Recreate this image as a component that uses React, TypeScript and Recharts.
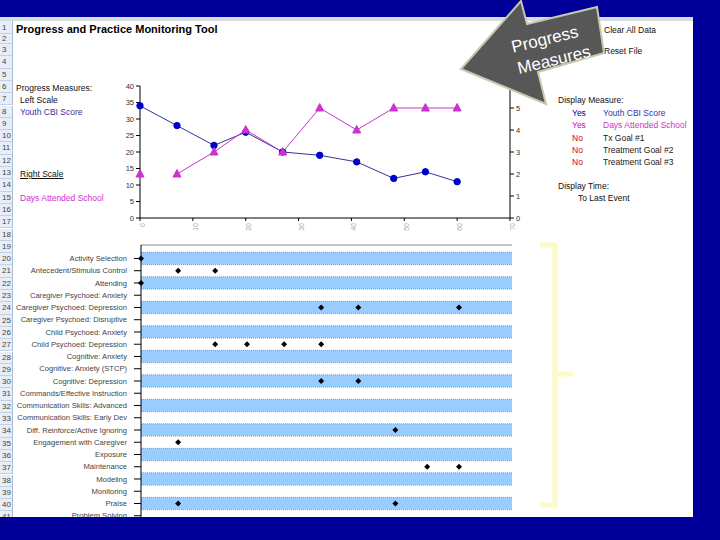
import React from 'react';
import {
  ComposedChart,
  Line,
  XAxis,
  YAxis,
  ScatterChart,
  Scatter,
  ReferenceArea,
  ReferenceLine,
} from 'recharts';

// ---------- data ----------
const sessionDays = [0, 7, 14, 20, 27, 34, 41, 48, 54, 60];
const youthCbiScore = [34, 28, 22, 26, 20, 19, 17, 12, 14, 11];
const daysAttendedSchool = [2, 2, 3, 4, 3, 5, 4, 5, 5, 5];
// the Days Attended School line is broken after this session
const schoolBreakAfter = 0;

const xTicks = [0, 10, 20, 30, 40, 50, 60, 70];
const leftTicks = [0, 5, 10, 15, 20, 25, 30, 35, 40];
const rightTicks = [0, 1, 2, 3, 4, 5, 6];

const practices = [
  'Activity Selection',
  'Antecedent/Stimulus Control',
  'Attending',
  'Caregiver Psychoed: Anxiety',
  'Caregiver Psychoed: Depression',
  'Caregiver Psychoed: Disruptive',
  'Child Psychoed: Anxiety',
  'Child Psychoed: Depression',
  'Cognitive: Anxiety',
  'Cognitive: Anxiety (STCP)',
  'Cognitive: Depression',
  'Commands/Effective Instruction',
  'Communication Skills: Advanced',
  'Communication Skills: Early Dev',
  'Diff. Reinforce/Active Ignoring',
  'Engagement with Caregiver',
  'Exposure',
  'Maintenance',
  'Modeling',
  'Monitoring',
  'Praise',
  'Problem Solving',
];

const practiceSessions: number[][] = [
  [0],
  [7, 14],
  [0],
  [],
  [34, 41, 60],
  [],
  [],
  [14, 20, 27, 34],
  [],
  [],
  [34, 41],
  [],
  [],
  [],
  [48],
  [7],
  [],
  [54, 60],
  [],
  [],
  [7, 48],
  [],
];

const displayMeasures = [
  { flag: 'Yes', name: 'Youth CBI Score', flagColor: '#000099', nameColor: '#3333AA' },
  { flag: 'Yes', name: 'Days Attended School', flagColor: '#CC00CC', nameColor: '#CC33CC' },
  { flag: 'No', name: 'Tx Goal #1', flagColor: '#CC0033', nameColor: '#222' },
  { flag: 'No', name: 'Treatment Goal #2', flagColor: '#CC0033', nameColor: '#222' },
  { flag: 'No', name: 'Treatment Goal #3', flagColor: '#CC0033', nameColor: '#222' },
];

// ---------- built tables ----------
const progressData: any[] = [];
sessionDays.forEach((d, i) => {
  progressData.push({ day: d, cbi: youthCbiScore[i], school: daysAttendedSchool[i] });
  if (i === schoolBreakAfter) {
    progressData.push({ day: (d + sessionDays[i + 1]) / 2, cbi: null, school: null });
  }
});

const practiceData: { x: number; y: number }[] = [];
practiceSessions.forEach((list, idx) => list.forEach((x) => practiceData.push({ x, y: idx })));

const FONT = '"Liberation Sans", Arial, sans-serif';
const BG = '#000098';

const rowTop = (n: number) => (n === 1 ? 21 : n === 2 ? 34 : 44 + (n - 3) * 12.3);
const rowH = (n: number) => (n === 1 ? 13 : n === 2 ? 10 : 12.3);
const rows = Array.from({ length: 41 }, (_, i) => i + 1);

const T = ({ x, y, children, style }: any) => (
  <div
    style={{
      position: 'absolute',
      left: x,
      top: y - 5,
      lineHeight: '10px',
      fontSize: 8.5,
      whiteSpace: 'nowrap',
      color: '#111',
      ...style,
    }}
  >
    {children}
  </div>
);

const TriangleDot = (props: any) => {
  const { cx, cy, index, payload } = props;
  if (cx == null || cy == null || payload == null || payload.school == null)
    return <g key={'t' + index} />;
  return (
    <polygon
      key={'t' + index}
      points={`${cx},${cy - 4.5} ${cx - 4},${cy + 3} ${cx + 4},${cy + 3}`}
      fill="#CC33CC"
      stroke="#CC33CC"
    />
  );
};

const Diamond = (props: any) => {
  const { cx, cy } = props;
  if (cx == null || cy == null) return <g />;
  return (
    <g>
      <polygon points={`${cx},${cy - 3} ${cx + 3},${cy} ${cx},${cy + 3} ${cx - 3},${cy}`} fill="#000" />
    </g>
  );
};

const PracticeTick = (props: any) => {
  const { x, y, payload } = props;
  const label = practices[payload.value] ?? '';
  return (
    <text
      x={x - 5}
      y={y}
      dy={2.7}
      textAnchor="end"
      fontSize={7.6}
      fill="#444"
      fontFamily={FONT}
    >
      {label}
    </text>
  );
};

export default function App() {
  return (
    <div
      style={{
        position: 'fixed',
        left: 0,
        top: 0,
        width: 720,
        height: 540,
        background: BG,
        overflow: 'hidden',
        fontFamily: FONT,
      }}
    >
      {/* sheet */}
      <div style={{ position: 'absolute', left: 0, top: 17, width: 693, height: 500, background: '#fff' }} />
      <div style={{ position: 'absolute', left: 0, top: 17, width: 693, height: 4, background: '#D5DCE6' }} />

      {/* title */}
      <div
        style={{
          position: 'absolute',
          left: 16,
          top: 23,
          fontSize: 11,
          lineHeight: '12px',
          fontWeight: 'bold',
          color: '#000',
          whiteSpace: 'nowrap',
        }}
      >
        Progress and Practice Monitoring Tool
      </div>

      {/* left panel */}
      <T x={16} y={88}>Progress Measures:</T>
      <T x={20} y={100}>Left Scale</T>
      <T x={20} y={112} style={{ color: '#3333AA' }}>Youth CBI Score</T>
      <T x={20} y={174} style={{ textDecoration: 'underline' }}>Right Scale</T>
      <T x={20} y={198} style={{ color: '#CC33CC' }}>Days Attended School</T>

      {/* right panel */}
      <T x={604} y={30}>Clear All Data</T>
      <T x={604} y={51}>Reset File</T>
      <T x={558} y={100}>Display Measure:</T>
      {displayMeasures.map((m, i) => (
        <React.Fragment key={m.name}>
          <T x={572} y={113 + i * 12.3} style={{ color: m.flagColor }}>{m.flag}</T>
          <div
            style={{
              position: 'absolute',
              left: 603,
              top: 113 + i * 12.3 - 5,
              width: 90,
              overflow: 'hidden',
              lineHeight: '10px',
              fontSize: 8.5,
              whiteSpace: 'nowrap',
              color: m.nameColor,
            }}
          >
            {m.name}
          </div>
        </React.Fragment>
      ))}
      <T x={558} y={186}>Display Time:</T>
      <T x={578} y={198}>To Last Event</T>

      {/* progress chart */}
      <div style={{ position: 'absolute', left: 90, top: 76 }}>
        <ComposedChart
          width={460}
          height={180}
          data={progressData}
          margin={{ top: 10, right: 0, bottom: 0, left: 0 }}
        >
          <XAxis
            dataKey="day"
            type="number"
            domain={[0, 70]}
            ticks={xTicks}
            height={38}
            interval={0}
            tickSize={3}
            axisLine={{ stroke: '#000' }}
            tickLine={{ stroke: '#000' }}
            tick={{ fontSize: 7, fill: '#aaa', angle: -90, textAnchor: 'end', fontFamily: FONT }}
          />
          <YAxis
            yAxisId="left"
            orientation="left"
            width={50}
            domain={[0, 40]}
            ticks={leftTicks}
            interval={0}
            tickSize={4}
            axisLine={{ stroke: '#000' }}
            tickLine={{ stroke: '#000' }}
            tick={{ fontSize: 7.5, fill: '#333', fontFamily: FONT }}
          />
          <YAxis
            yAxisId="right"
            orientation="right"
            width={40}
            domain={[0, 6]}
            ticks={rightTicks}
            interval={0}
            tickSize={4}
            axisLine={{ stroke: '#000' }}
            tickLine={{ stroke: '#000' }}
            tick={{ fontSize: 7.5, fill: '#333', fontFamily: FONT }}
          />
          <Line
            yAxisId="left"
            dataKey="cbi"
            stroke="#333399"
            strokeWidth={1}
            connectNulls
            dot={{ r: 3.2, fill: '#0000CC', stroke: '#0000CC', strokeWidth: 1 }}
            isAnimationActive={false}
          />
          <Line
            yAxisId="right"
            dataKey="school"
            stroke="#CC33CC"
            strokeWidth={1}
            connectNulls={false}
            dot={TriangleDot}
            isAnimationActive={false}
          />
        </ComposedChart>
      </div>

      {/* practice chart */}
      <div style={{ position: 'absolute', left: 0, top: 244 }}>
        <ScatterChart width={520} height={284} margin={{ top: 0, right: 8, bottom: 0, left: 0 }}>
          <XAxis
            dataKey="x"
            type="number"
            orientation="top"
            domain={[0, 70]}
            height={1}
            tick={false}
            tickLine={false}
            axisLine={{ stroke: '#888' }}
          />
          <YAxis
            dataKey="y"
            type="number"
            reversed
            width={141}
            domain={[-1.1, 22]}
            allowDataOverflow
            ticks={practices.map((_, i) => i)}
            interval={0}
            tickSize={7}
            axisLine={{ stroke: '#000' }}
            tickLine={{ stroke: '#000' }}
            tick={PracticeTick}
          />
          {practices.map((p, i) =>
            i % 2 === 0 ? (
              <ReferenceArea
                key={'band' + p}
                y1={i - 0.5}
                y2={i + 0.5}
                fill="#99CCFF"
                fillOpacity={1}
                stroke="none"
                ifOverflow="visible"
              />
            ) : null
          )}
          {practices.map((p, i) => (
            <ReferenceLine
              key={'line' + p}
              y={i - 0.5}
              stroke="#8a9aaa"
              strokeDasharray="1 1"
              ifOverflow="visible"
            />
          ))}
          <Scatter data={practiceData} shape={Diamond} isAnimationActive={false} />
        </ScatterChart>
      </div>

      {/* row headers */}
      {rows.map((n) => (
        <div
          key={'r' + n}
          style={{
            position: 'absolute',
            left: 0,
            top: rowTop(n),
            width: 13,
            height: rowH(n),
            background: '#E8EEF8',
            borderBottom: '1px solid #C2D1E6',
            borderRight: '1px solid #A9BCD6',
            boxSizing: 'border-box',
            fontSize: 8,
            lineHeight: rowH(n) + 'px',
            color: '#444',
            paddingLeft: 2,
            overflow: 'hidden',
          }}
        >
          {n}
        </div>
      ))}

      {/* bottom band */}
      <div style={{ position: 'absolute', left: 0, top: 517, width: 720, height: 23, background: BG }} />

      {/* overlay: callout arrow and bracket */}
      <svg width={720} height={540} style={{ position: 'absolute', left: 0, top: 0 }}>
        <polygon
          points="461,69 521,1 527,24 597,7 604,53 538,72 546,104"
          fill="#575757"
          stroke="#C8C8B0"
          strokeWidth={2}
          strokeLinejoin="miter"
        />
        <g transform="rotate(-13.6 550 48)">
          <text x={547} y={44} textAnchor="middle" fill="#fff" fontSize={17} fontFamily={FONT}>
            Progress
          </text>
          <text x={551} y={66} textAnchor="middle" fill="#fff" fontSize={17} fontFamily={FONT}>
            Measures
          </text>
        </g>
        <polyline
          points="540,245 555,245 555,505 540,505"
          fill="none"
          stroke="#FBFBC8"
          strokeWidth={5}
        />
        <line x1={555} y1={374} x2={573} y2={374} stroke="#FBFBC8" strokeWidth={5} />
      </svg>
    </div>
  );
}
